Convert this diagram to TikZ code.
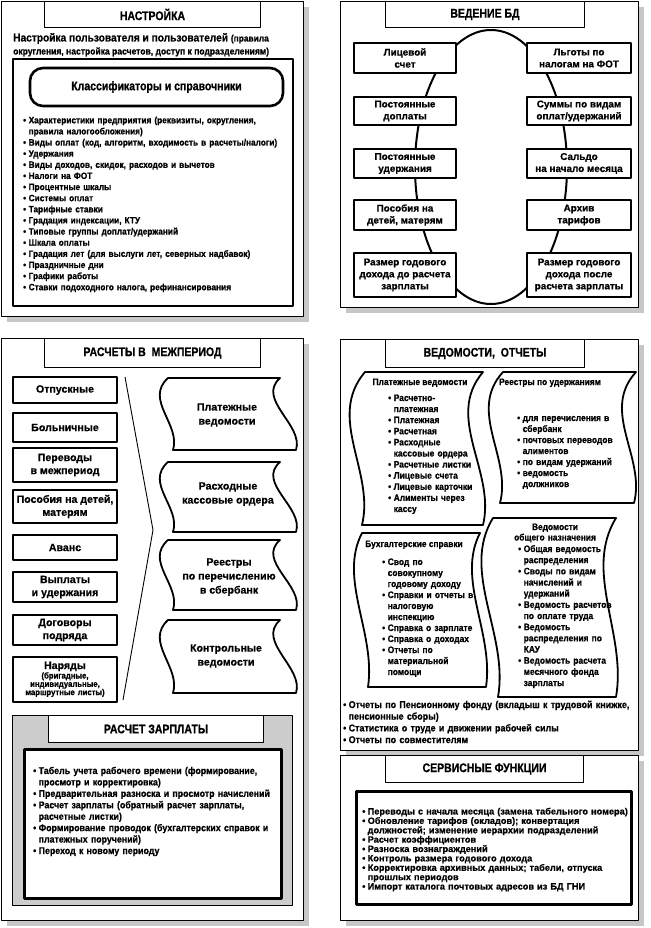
\documentclass[tikz,border=0pt]{standalone}
\usepackage{fontspec}
\setmainfont{Liberation Sans}[FakeBold=0.6]
\newfontfamily\tf{Liberation Sans}[FakeStretch=0.84,FakeBold=0.8]
\newfontfamily\lf{Liberation Sans}[FakeStretch=0.9,FakeBold=0.6]
\usetikzlibrary{shadows}
\newcommand\fs[2]{\bfseries\fontsize{#1}{#2}\selectfont}
\newcommand\bu{\makebox[5.5pt][l]{•}}
\newcommand\bc{\hspace*{5.5pt}}
% doc shape: TLx TRx BLx BRx y1 y2 a
\newcommand\docshape[7]{%
\draw[docsh] (#1,#5) -- (#2,#5)
 .. controls ({#2-3*#7},{#5+0.3*(#6-#5)}) and ({#4+#7},{#5+0.65*(#6-#5)}) .. (#4,#6)
 -- (#3,#6)
 .. controls ({#3+#7},{#5+0.65*(#6-#5)}) and ({#1-3*#7},{#5+0.3*(#6-#5)}) .. cycle;}
\begin{document}
\begin{tikzpicture}[x=1pt,y=-1pt,line join=round,
 sh/.style={drop shadow={shadow xshift=5pt,shadow yshift=-5pt,fill=black!22,opacity=1}},
 panel/.style={draw,line width=1.2pt,fill=white,sh,inner sep=0,anchor=north west},
 ttl/.style={draw,line width=1pt,fill=white,inner sep=0,anchor=north west,font=\tf\fs{12.5}{14}},
 bx/.style={draw,line width=1.2pt,fill=white,inner sep=0,align=center},
 btxt/.style={font=\fs{9.9}{12}},
 ctxt/.style={font=\fs{10.6}{13}},
 lst/.style={inner sep=0,anchor=base west,text width=#1,align=left},
 lst/.default=280,
 docsh/.style={draw,line width=1.8pt,fill=white},
 doctxt/.style={inner sep=0,align=center,font=\fs{10.6}{14}},
 heavy/.style={draw,line width=2.8pt,fill=white,inner sep=0,anchor=north west},
]
\useasboundingbox (0,0) rectangle (650,928);
\fill[white] (0,0) rectangle (650,928);

% ===== Panel A =====
\node[panel,minimum width=302,minimum height=315] (pA) at (1,1) {};
\node[ttl,minimum width=216,minimum height=26] (tA) at (44,1) {НАСТРОЙКА};
\node[inner sep=0,anchor=base west] (a1) at (13,41.5) {\lf\fs{11.3}{12}Настройка пользователя и пользователей \fs{9.3}{12}(правила};
\node[inner sep=0,anchor=base west,font=\lf\fs{9.5}{12}] (a2) at (13,54.5) {округления, настройка расчетов, доступ к подразделениям)};
\node[draw,line width=1.7pt,inner sep=0,anchor=north west,minimum width=280,minimum height=247] (iA) at (12,58) {};
\node[draw,line width=2.6pt,rounded corners=13pt,inner sep=0,minimum width=253,minimum height=38,font=\tf\fs{12.5}{14}] (kl) at (156.5,87) {Классификаторы и справочники};
\node[lst=270,font=\lf\fs{9.2}{11.13}] (lA) at (23,123.3) {\bu Характеристики предприятия (реквизиты, округления,\\
\bc правила налогообложения)\\
\bu Виды оплат (код, алгоритм, входимость в расчеты/налоги)\\
\bu Удержания\\
\bu Виды доходов, скидок, расходов и вычетов\\
\bu Налоги на ФОТ\\
\bu Процентные шкалы\\
\bu Системы оплат\\
\bu Тарифные ставки\\
\bu Градация индексации, КТУ\\
\bu Типовые группы доплат/удержаний\\
\bu Шкала оплаты\\
\bu Градация лет (для выслуги лет, северных надбавок)\\
\bu Праздничные дни\\
\bu Графики работы\\
\bu Ставки подоходного налога, рефинансирования};

% ===== Panel B =====
\node[panel,minimum width=298,minimum height=306] (pB) at (340,1) {};
\draw[line width=2pt] (491,167) ellipse [x radius=76, y radius=137];
\node[ttl,minimum width=199,minimum height=26] (tB) at (385,1) {ВЕДЕНИЕ БД};
\node[bx,btxt,minimum width=102,minimum height=30] (bL1) at (405,58) {Лицевой\\счет};
\node[bx,btxt,minimum width=104,minimum height=30] (bR1) at (579,58) {Льготы по\\налогам на ФОТ};
\node[bx,btxt,minimum width=102,minimum height=28] (bL2) at (405,111) {Постоянные\\доплаты};
\node[bx,btxt,minimum width=104,minimum height=28] (bR2) at (579,111) {Суммы по видам\\оплат/удержаний};
\node[bx,btxt,minimum width=102,minimum height=29] (bL3) at (405,163.5) {Постоянные\\удержания};
\node[bx,btxt,minimum width=104,minimum height=29] (bR3) at (579,163.5) {Сальдо\\на начало месяца};
\node[bx,btxt,minimum width=102,minimum height=30] (bL4) at (405,215) {Пособия на\\детей, матерям};
\node[bx,btxt,minimum width=104,minimum height=30] (bR4) at (579,215) {Архив\\тарифов};
\node[bx,btxt,minimum width=102,minimum height=44] (bL5) at (405,275) {Размер годового\\дохода до расчета\\зарплаты};
\node[bx,btxt,minimum width=104,minimum height=44] (bR5) at (579,275) {Размер годового\\дохода после\\расчета зарплаты};

% ===== Panel C =====
\node[panel,minimum width=302,minimum height=582] (pC) at (1,338) {};
\node[ttl,minimum width=216,minimum height=29] (tC) at (44,338) {РАСЧЕТЫ В\ \ МЕЖПЕРИОД};
\node[bx,ctxt,minimum width=104,minimum height=26] (c1) at (65,390) {Отпускные};
\node[bx,ctxt,minimum width=104,minimum height=29] (c2) at (65,427.5) {Больничные};
\node[bx,ctxt,minimum width=104,minimum height=34] (c3) at (65,465) {Переводы\\в межпериод};
\node[bx,ctxt,minimum width=104,minimum height=33] (c4) at (65,506.5) {Пособия на детей,\\матерям};
\node[bx,ctxt,minimum width=104,minimum height=25] (c5) at (65,547.5) {Аванс};
\node[bx,ctxt,minimum width=104,minimum height=30] (c6) at (65,587) {Выплаты\\и удержания};
\node[bx,ctxt,minimum width=104,minimum height=30] (c7) at (65,630) {Договоры\\подряда};
\node[bx,minimum width=104,minimum height=45] (c8) at (65,679.5) {};
\node[inner sep=0,anchor=base,font=\fs{10.6}{12}] (c8a) at (65,669) {Наряды};
\node[inner sep=0,anchor=base,text width=104,align=center,font=\lf\fs{8.6}{8.3}] (c8b) at (65,678.5) {(бригадные,\\индивидуальные,\\маршрутные листы)};
\coordinate (brT) at (125,377);
\coordinate (brM) at (153,530);
\coordinate (brB) at (123,700);
\draw[line width=0.9pt] (brT) -- (brM) -- (brB);
\docshape{168}{280}{173}{296}{378}{450}{8}
\docshape{168}{280}{173}{296}{462}{532}{8}
\docshape{168}{280}{173}{296}{540}{610}{8}
\docshape{168}{280}{173}{296}{620}{693}{8}
\node[doctxt] (d1) at (227,415) {Платежные\\ведомости};
\node[doctxt] (d2) at (228,494) {Расходные\\кассовые ордера};
\node[doctxt] (d3) at (229,577) {Реестры\\по перечислению\\в сбербанк};
\node[doctxt] (d4) at (226,656) {Контрольные\\ведомости};
% gray sub panel
\node[draw,line width=1pt,fill=black!20,inner sep=0,anchor=north west,minimum width=280,minimum height=190] (gG) at (12,715) {};
\node[ttl,minimum width=215,minimum height=27] (tG) at (48,715) {РАСЧЕТ ЗАРПЛАТЫ};
\node[heavy,minimum width=257,minimum height=149] (iG) at (23,748) {};
\node[lst=250,font=\lf\fs{9.8}{11.43}] (lG) at (33,774) {\bu Табель учета рабочего времени (формирование,\\
\bc просмотр и корректировка)\\
\bu Предварительная разноска и просмотр начислений\\
\bu Расчет зарплаты (обратный расчет зарплаты,\\
\bc расчетные листки)\\
\bu Формирование проводок (бухгалтерских справок и\\
\bc платежных поручений)\\
\bu Переход к новому периоду};

% ===== Panel D =====
\node[panel,minimum width=298,minimum height=411] (pD) at (340,339) {};
\node[ttl,minimum width=199,minimum height=28] (tD) at (385,339) {ВЕДОМОСТИ,\ \ ОТЧЕТЫ};
\docshape{365}{483}{362}{483}{372}{525}{13}
\docshape{503}{636}{500}{634}{372}{503}{12}
\docshape{362}{480}{368}{486}{533}{687}{8}
\docshape{493}{616}{498}{616}{518}{697}{11}
\node[inner sep=0,anchor=base,font=\lf\fs{9.3}{11}] (e1t) at (420,385) {Платежные ведомости};
\node[lst=95,font=\lf\fs{9.4}{11.1}] (e1) at (388,401) {\bu Расчетно-\\
\bc платежная\\
\bu Платежная\\
\bu Расчетная\\
\bu Расходные\\
\bc кассовые ордера\\
\bu Расчетные листки\\
\bu Лицевые счета\\
\bu Лицевые карточки\\
\bu Алименты через\\
\bc кассу};
\node[inner sep=0,anchor=base,font=\lf\fs{9.3}{11}] (e2t) at (550,385) {Реестры по удержаниям};
\node[lst=110,font=\lf\fs{9.4}{11}] (e2) at (517,421) {\bu для перечисления в\\
\bc сбербанк\\
\bu почтовых переводов\\
\bc алиментов\\
\bu по видам удержаний\\
\bu ведомость\\
\bc должников};
\node[inner sep=0,anchor=base,font=\lf\fs{9.3}{11}] (e3t) at (414,547) {Бухгалтерские справки};
\node[lst=95,font=\lf\fs{9.4}{11}] (e3) at (382,565) {\bu Свод по\\
\bc совокупному\\
\bc годовому доходу\\
\bu Справки и отчеты в\\
\bc налоговую\\
\bc инспекцию\\
\bu Справка о зарплате\\
\bu Справка о доходах\\
\bu Отчеты по\\
\bc материальной\\
\bc помощи};
\node[inner sep=0,anchor=base,text width=110,align=center,font=\lf\fs{9.3}{10.5}] (e4t) at (555,530) {Ведомости\\общего назначения};
\node[lst=100,font=\lf\fs{9.4}{11.17}] (e4) at (518,552) {\bu Общая ведомость\\
\bc распределения\\
\bu Своды по видам\\
\bc начислений и\\
\bc удержаний\\
\bu Ведомость расчетов\\
\bc по оплате труда\\
\bu Ведомость\\
\bc распределения по\\
\bc КАУ\\
\bu Ведомость расчета\\
\bc месячного фонда\\
\bc зарплаты};
\node[lst=290,font=\lf\fs{9.9}{11.7}] (eB) at (343,708) {\bu Отчеты по Пенсионному фонду (вкладыш к трудовой книжке,\\
\bc пенсионные сборы)\\
\bu Статистика о труде и движении рабочей силы\\
\bu Отчеты по совместителям};

% ===== Panel E =====
\node[panel,minimum width=298,minimum height=165] (pE) at (340,755) {};
\node[ttl,minimum width=198,minimum height=27] (tE) at (385,755) {СЕРВИСНЫЕ ФУНКЦИИ};
\node[heavy,minimum width=275,minimum height=113] (iE) at (355,790) {};
\node[lst=270,font=\fs{9.2}{9.38}] (lE) at (362,814.5) {\bu Переводы с начала месяца (замена табельного номера)\\
\bu Обновление тарифов (окладов); конвертация\\
\bc должностей; изменение иерархии подразделений\\
\bu Расчет коэффициентов\\
\bu Разноска вознаграждений\\
\bu Контроль размера годового дохода\\
\bu Корректировка архивных данных; табели, отпуска\\
\bc прошлых периодов\\
\bu Импорт каталога почтовых адресов из БД ГНИ};
\end{tikzpicture}
\end{document}
